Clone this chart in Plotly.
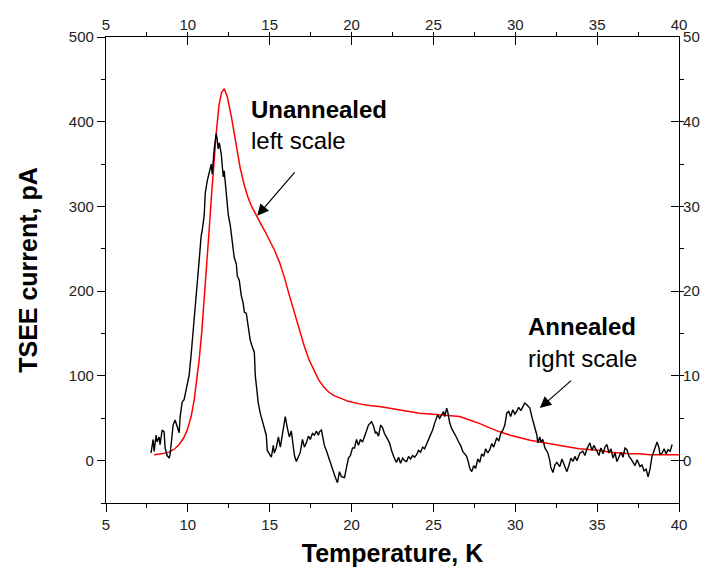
import plotly.graph_objects as go

# Unannealed sample (left scale, pA)
unann_T = [7.94, 8.4, 8.86, 9.2, 9.47, 9.75, 9.96, 10.2, 10.39, 10.55, 10.69, 10.85, 11.0, 11.15,
           11.3, 11.45, 11.6, 11.75, 11.9, 12.05, 12.22, 12.4, 12.65, 12.85, 13.0, 13.2, 13.45,
           13.65, 13.87, 14.1, 14.36, 14.7, 14.98, 15.3, 15.6, 15.9, 16.2, 16.5, 16.8, 17.1, 17.4,
           17.7, 18.0, 18.3, 18.6, 18.9, 19.26, 19.8, 20.48, 21.1, 21.7, 22.3, 22.9, 23.5, 24.15,
           24.8, 25.4, 26.0, 26.6, 27.2, 27.8, 28.4, 29.05, 29.7, 30.3, 30.9, 31.5, 32.1, 32.7,
           33.3, 33.9, 34.5, 35.2, 35.8, 36.4, 37.0, 37.6, 38.2, 38.8, 39.4, 40.0]
unann_I = [7, 8, 10, 14, 19, 27, 36, 52, 72, 95, 119, 152, 189, 230,
           272, 315, 354, 390, 419, 434, 439, 430, 407, 385, 366, 345, 325,
           312, 301, 292, 283, 271, 260, 248, 234, 216, 195, 175, 154, 136, 119,
           106, 95, 87, 81, 77, 74, 70, 67, 65, 64, 62, 60, 58, 56,
           55, 54, 53, 52, 48, 44, 39, 34, 30, 27, 24, 22, 20, 18,
           16, 14, 13, 12, 10, 9, 8, 8, 7, 7, 7, 7]

# Annealed sample (right scale, pA)
ann_T = [7.75, 7.88, 7.94, 8.06, 8.12, 8.24, 8.30, 8.43, 8.55, 8.61, 8.73, 8.86, 8.92, 9.04, 9.10,
         9.22, 9.35, 9.47, 9.53, 9.65, 9.77, 9.90, 10.02, 10.08, 10.20, 10.32, 10.39, 10.51,
         10.63, 10.69, 10.81, 10.88, 11.00, 11.06, 11.18, 11.30, 11.43, 11.49, 11.61, 11.73,
         11.79, 11.85, 11.92, 12.04, 12.16, 12.22, 12.34, 12.47, 12.59, 12.71, 12.83, 12.96,
         13.02, 13.14, 13.26, 13.38, 13.45, 13.57, 13.69, 13.81, 13.94, 14.06, 14.12, 14.24,
         14.30, 14.42, 14.55, 14.67, 14.79, 14.85, 14.98, 15.10, 15.22, 15.28, 15.40, 15.53,
         15.65, 15.77, 15.83, 15.95, 16.08, 16.20, 16.32, 16.44, 16.51, 16.63, 16.75, 16.87,
         17.00, 17.12, 17.24, 17.36, 17.48, 17.61, 17.73, 17.85, 17.97, 18.04, 18.16, 18.22,
         18.34, 18.46, 18.59, 18.77, 18.89, 19.01, 19.14, 19.26, 19.38, 19.57, 19.69, 19.81,
         19.93, 20.06, 20.18, 20.30, 20.42, 20.54, 20.67, 20.79, 20.91, 21.03, 21.22, 21.34,
         21.46, 21.52, 21.65, 21.77, 21.89, 22.01, 22.14, 22.32, 22.44, 22.56, 22.63, 22.75,
         22.87, 22.99, 23.12, 23.24, 23.36, 23.48, 23.60, 23.73, 23.85, 23.97, 24.09, 24.22,
         24.34, 24.46, 24.58, 24.71, 24.83, 24.95, 25.07, 25.20, 25.26, 25.38, 25.50, 25.62,
         25.69, 25.81, 25.87, 25.99, 26.11, 26.24, 26.42, 26.54, 26.66, 26.79, 26.91, 27.03,
         27.15, 27.22, 27.34, 27.46, 27.58, 27.71, 27.83, 27.95, 28.07, 28.19, 28.32, 28.44,
         28.56, 28.68, 28.87, 28.99, 29.11, 29.24, 29.36, 29.48, 29.60, 29.72, 29.85, 29.97,
         30.09, 30.21, 30.34, 30.46, 30.58, 30.70, 30.89, 31.01, 31.19, 31.32, 31.38, 31.50,
         31.56, 31.68, 31.81, 31.99, 32.11, 32.17, 32.30, 32.42, 32.54, 32.72, 32.85, 32.97,
         33.15, 33.27, 33.40, 33.52, 33.64, 33.76, 33.95, 34.13, 34.25, 34.38, 34.56, 34.68,
         34.80, 34.99, 35.11, 35.23, 35.36, 35.48, 35.60, 35.72, 35.84, 35.97, 36.09, 36.21,
         36.33, 36.46, 36.58, 36.70, 36.82, 36.95, 37.07, 37.19, 37.31, 37.44, 37.62, 37.74,
         37.86, 37.99, 38.11, 38.23, 38.35, 38.48, 38.66, 38.78, 38.84, 38.97, 39.09, 39.21,
         39.33, 39.46, 39.58]
ann_I = [0.9, 2.5, 1.1, 3.0, 2.2, 2.8, 1.9, 3.6, 3.4, 1.5, 0.6, 0.3, 0.8, 3.2, 4.2,
         4.8, 4.0, 3.3, 5.2, 6.9, 7.2, 8.5, 9.8, 10.1, 12.5, 15.5, 16.6, 20.0,
         22.5, 23.6, 26.5, 27.2, 29.0, 31.5, 33.0, 34.0, 35.0, 33.8, 36.8, 38.6,
         38.0, 36.8, 37.5, 36.2, 33.5, 34.2, 31.6, 29.0, 27.8, 25.5, 24.0, 23.2,
         21.8, 21.3, 19.5, 18.6, 17.5, 17.4, 16.0, 14.2, 13.4, 12.8, 10.0, 7.5,
         6.8, 5.6, 4.6, 3.6, 3.0, 1.2, 0.8, 0.4, 1.8, 0.9, 1.5, 2.8,
         1.6, 3.2, 4.0, 5.2, 3.8, 2.8, 3.5, 1.5, 0.6, -0.1, 0.5, 1.0,
         2.5, 1.6, 2.1, 2.9, 2.5, 3.2, 3.0, 3.5, 3.0, 3.4, 3.6, 2.8,
         1.8, 1.2, 0.4, -0.5, -1.2, -2.0, -2.6, -1.3, -1.9, -2.0, -0.8, 0.3,
         0.6, 1.5, 1.5, 2.5, 1.8, 2.5, 2.2, 3.0, 3.5, 4.2, 4.6, 4.1,
         3.2, 3.4, 2.9, 4.2, 3.9, 3.2, 2.8, 2.1, 1.2, 0.5, 0.2, -0.2,
         0.4, -0.3, 0.3, 0.0, -0.1, 0.5, 0.2, 0.6, 0.4, 0.7, 1.2, 1.0,
         1.6, 1.4, 1.9, 2.6, 3.0, 3.6, 4.4, 5.0, 5.4, 5.0, 5.5, 5.8,
         5.2, 6.2, 5.8, 4.5, 3.8, 3.4, 2.7, 2.2, 1.8, 1.1, 0.8, 0.5,
         -0.3, -0.9, -1.3, -0.6, -0.9, 0.2, -0.2, 0.8, 0.5, 1.4, 0.9, 1.3,
         2.0, 1.6, 2.7, 2.3, 3.2, 3.6, 4.2, 5.6, 5.8, 5.2, 6.0, 5.5,
         5.8, 6.3, 5.9, 6.4, 6.8, 6.6, 6.2, 5.2, 4.0, 3.0, 2.1, 2.8,
         2.2, 2.5, 1.5, 0.9, 0.0, -0.8, -1.4, -0.5, -0.2, -0.7, 0.2, -0.5,
         -1.3, -0.6, 0.3, -0.1, 0.5, 0.0, 0.9, 1.1, 0.6, 1.4, 2.1, 1.2,
         1.8, 1.1, 0.6, 1.5, 0.8, 1.6, 1.9, 0.9, 1.4, 0.3, 0.9, -0.1,
         0.5, 1.0, 0.4, 1.5, 1.3, 0.5, 0.2, -0.2, -0.6, 0.1, -0.7, -0.5,
         -1.2, -1.0, -1.9, -1.0, 0.5, 1.2, 2.2, 1.5, 0.7, 0.9, 1.4, 0.8,
         1.3, 1.1, 1.9]

x_ticks = [5, 10, 15, 20, 25, 30, 35, 40]
left_ticks = [0, 100, 200, 300, 400, 500]
right_ticks = [0, 10, 20, 30, 40, 50]

FONT = "Liberation Sans, Arial, Helvetica, sans-serif"

fig = go.Figure()
fig.add_trace(go.Scatter(x=unann_T, y=unann_I, mode="lines",
                         line=dict(color="#ff0000", width=1.5), xaxis="x", yaxis="y",
                         showlegend=False, hoverinfo="skip"))
fig.add_trace(go.Scatter(x=ann_T, y=ann_I, mode="lines",
                         line=dict(color="#000000", width=1.4), xaxis="x2", yaxis="y2",
                         showlegend=False, hoverinfo="skip"))

common_x = dict(range=[5, 40], tickvals=x_ticks, showgrid=False, zeroline=False,
                showline=True, linecolor="black", linewidth=1.2,
                tickcolor="black", tickwidth=1.2, ticklen=8,
                tickfont=dict(family=FONT, size=15, color="#222222"),
                minor=dict(dtick=2.5, tick0=5, ticklen=4, tickcolor="black", tickwidth=1.2))

fig.update_layout(
    width=712, height=581,
    margin=dict(l=106, r=31, t=37, b=78),
    paper_bgcolor="white", plot_bgcolor="white",
    font=dict(family=FONT, color="black"),
    xaxis=dict(**common_x, side="bottom", ticks="outside",
               title=dict(text="<b>Temperature, K</b>", font=dict(family=FONT, size=25), standoff=12)),
    xaxis2=dict(**common_x, side="top", ticks="inside", overlaying="x", matches="x"),
    yaxis=dict(range=[-50, 500], tickvals=left_ticks, side="left", ticks="outside",
               showgrid=False, zeroline=False, showline=True, linecolor="black", linewidth=1.2,
               tickcolor="black", tickwidth=1.2, ticklen=8,
               tickfont=dict(family=FONT, size=15, color="#222222"),
               minor=dict(dtick=50, tick0=0, ticklen=4, tickcolor="black", tickwidth=1.2),
               title=dict(text="<b>TSEE current, pA</b>", font=dict(family=FONT, size=25), standoff=24)),
    yaxis2=dict(range=[-5, 50], tickvals=right_ticks, side="right", ticks="inside",
                overlaying="y", showgrid=False, zeroline=False, showline=True,
                linecolor="black", linewidth=1.2, tickcolor="black", tickwidth=1.2, ticklen=8,
                tickfont=dict(family=FONT, size=15, color="#222222"),
                minor=dict(dtick=5, tick0=0, ticklen=4, tickcolor="black", tickwidth=1.2)),
)

ann_font = dict(family=FONT, size=24, color="black")
fig.add_annotation(x=13.76, y=415, xref="x", yref="y", text="<b>Unannealed</b>",
                   showarrow=False, xanchor="left", font=ann_font)
fig.add_annotation(x=13.76, y=378, xref="x", yref="y", text="left scale",
                   showarrow=False, xanchor="left", font=ann_font)
fig.add_annotation(x=34.09, y=158, xref="x", yref="y", text="<b>Annealed</b>",
                   showarrow=False, xanchor="center", font=ann_font)
fig.add_annotation(x=34.09, y=121, xref="x", yref="y", text="right scale",
                   showarrow=False, xanchor="center", font=ann_font)
# arrows
fig.add_annotation(x=14.24, y=289, ax=16.6, ay=342, xref="x", yref="y", axref="x", ayref="y",
                   text="", showarrow=True, arrowhead=2, arrowsize=1.9, arrowwidth=1.2,
                   arrowcolor="black")
fig.add_annotation(x=31.5, y=62, ax=33.5, ay=96, xref="x", yref="y", axref="x", ayref="y",
                   text="", showarrow=True, arrowhead=2, arrowsize=1.9, arrowwidth=1.2,
                   arrowcolor="black")

fig.write_html("out.html")
